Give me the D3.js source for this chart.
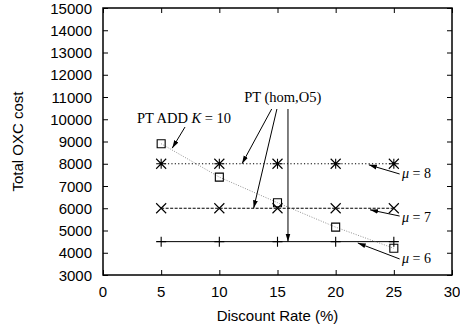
<!DOCTYPE html>
<html>
<head>
<meta charset="utf-8">
<script src="https://cdn.jsdelivr.net/npm/d3@7"></script>
<style>
  body { margin: 0; background: #fff; }
</style>
</head>
<body>
<svg class="graph"></svg>
<script>
var rates = [5, 10, 15, 20, 25];
var mu8 = [8000, 8000, 8000, 8000, 8000];
var mu7 = [6000, 6000, 6000, 6000, 6000];
var mu6 = [4500, 4500, 4500, 4500, 4500];
var ptAdd = [8900, 7400, 6250, 5150, 4200];
var xTicks = [0, 5, 10, 15, 20, 25, 30];
var yTicks = [3000, 4000, 5000, 6000, 7000, 8000, 9000, 10000, 11000, 12000, 13000, 14000, 15000];

// annotations in data units: [x1, y1, x2, y2]
var arrows = [
  [7.05, 9650, 5.95, 8700],
  [14.5, 10460, 11.95, 8000],
  [14.95, 10460, 12.95, 6000],
  [15.9, 10460, 15.9, 4500],
  [25.5, 7540, 22.85, 7950],
  [25.5, 5650, 22.95, 5930],
  [25.5, 3720, 21.9, 4440]
];

var width = 460;
var height = 331;
var pLeft = 103, pRight = 452, pTop = 8, pBottom = 275;

var svg = d3.select(".graph")
  .attr("width", width)
  .attr("height", height);

var x = d3.scaleLinear().domain([0, 30]).range([pLeft, pRight]);
var y = d3.scaleLinear().domain([3000, 15000]).range([pBottom, pTop]);

var defs = svg.append("defs");
defs.append("marker")
  .attr("id", "head")
  .attr("viewBox", "0 0 10 10")
  .attr("refX", 10)
  .attr("refY", 5)
  .attr("markerWidth", 8)
  .attr("markerHeight", 8)
  .attr("markerUnits", "userSpaceOnUse")
  .attr("orient", "auto")
  .append("path")
  .attr("d", "M0,2 L10,5 L0,8 Z")
  .attr("fill", "#000");

// ticks (inside, mirrored)
var tl = 5;
svg.append("g").attr("transform", "translate(0," + pBottom + ")")
  .call(d3.axisBottom(x).tickValues(xTicks).tickSizeInner(-tl).tickSizeOuter(0).tickFormat(""))
  .call(function(g){ g.select(".domain").remove(); });
svg.append("g").attr("transform", "translate(0," + pTop + ")")
  .call(d3.axisTop(x).tickValues(xTicks).tickSizeInner(-tl).tickSizeOuter(0).tickFormat(""))
  .call(function(g){ g.select(".domain").remove(); });
svg.append("g").attr("transform", "translate(" + pLeft + ",0)")
  .call(d3.axisLeft(y).tickValues(yTicks).tickSizeInner(-tl).tickSizeOuter(0).tickFormat(""))
  .call(function(g){ g.select(".domain").remove(); });
svg.append("g").attr("transform", "translate(" + pRight + ",0)")
  .call(d3.axisRight(y).tickValues(yTicks).tickSizeInner(-tl).tickSizeOuter(0).tickFormat(""))
  .call(function(g){ g.select(".domain").remove(); });
svg.selectAll(".tick line").attr("stroke", "#000").attr("stroke-width", 1);

var sans = "Liberation Sans, Arial, sans-serif";

// tick labels
svg.append("g").selectAll("text")
  .data(xTicks)
  .enter()
  .append("text")
  .attr("x", function(d){ return x(d); })
  .attr("y", pBottom + 22)
  .attr("text-anchor", "middle")
  .attr("font-family", sans)
  .attr("font-size", "15px")
  .text(function(d){ return d; });

svg.append("g").selectAll("text")
  .data(yTicks)
  .enter()
  .append("text")
  .attr("x", pLeft - 11)
  .attr("y", function(d){ return y(d) + 5.5; })
  .attr("text-anchor", "end")
  .attr("font-family", sans)
  .attr("font-size", "15px")
  .text(function(d){ return d; });

// border
svg.append("rect")
  .attr("x", pLeft).attr("y", pTop)
  .attr("width", pRight - pLeft).attr("height", pBottom - pTop)
  .attr("fill", "none").attr("stroke", "#000").attr("stroke-width", 1.5);

// axis titles
svg.append("text")
  .attr("transform", "translate(18," + ((pTop + pBottom) / 2) + ") rotate(-90)")
  .attr("text-anchor", "middle")
  .attr("dy", "0.35em")
  .attr("font-family", sans)
  .attr("font-size", "15px")
  .text("Total OXC cost");

svg.append("text")
  .attr("x", (pLeft + pRight) / 2)
  .attr("y", 321)
  .attr("text-anchor", "middle")
  .attr("font-family", sans)
  .attr("font-size", "15px")
  .text("Discount Rate (%)");

var line = d3.line()
  .x(function(d){ return x(d[0]); })
  .y(function(d){ return y(d[1]); });

function pairs(vals) {
  return rates.map(function(r, i){ return [r, vals[i]]; });
}

var series = [
  { vals: mu8, dash: "1.2,2.2", marker: "star", stroke: "#000", w: 1 },
  { vals: mu7, dash: "3,1.5", marker: "cross", stroke: "#000", w: 1 },
  { vals: mu6, dash: null, marker: "plus", stroke: "#000", w: 1 },
  { vals: ptAdd, dash: "1,1.5", marker: "box", stroke: "#777", w: 0.8 }
];

series.forEach(function(s) {
  svg.append("path")
    .datum(pairs(s.vals))
    .attr("d", line)
    .attr("fill", "none")
    .attr("stroke", s.stroke)
    .attr("stroke-width", s.w)
    .attr("stroke-dasharray", s.dash);

  var m = 5;
  var pts = svg.append("g").selectAll("g")
    .data(pairs(s.vals))
    .enter()
    .append("g")
    .attr("transform", function(d){ return "translate(" + x(d[0]) + "," + y(d[1]) + ")"; });

  var path = "";
  if (s.marker == "plus" || s.marker == "star") path += "M" + -m + ",0H" + m + "M0," + -m + "V" + m;
  if (s.marker == "cross" || s.marker == "star") path += "M" + -m + "," + -m + "L" + m + "," + m + "M" + -m + "," + m + "L" + m + "," + -m;
  if (s.marker == "box") path = "M-4,-4H4V4H-4Z";
  pts.append("path")
    .attr("d", path)
    .attr("fill", "none")
    .attr("stroke", "#000")
    .attr("stroke-width", 1.1);
});

// annotations
svg.append("g").selectAll("line")
  .data(arrows)
  .enter()
  .append("line")
  .attr("x1", function(d){ return x(d[0]); })
  .attr("y1", function(d){ return y(d[1]); })
  .attr("x2", function(d){ return x(d[2]); })
  .attr("y2", function(d){ return y(d[3]); })
  .attr("stroke", "#000")
  .attr("stroke-width", 1)
  .attr("marker-end", "url(#head)");

var serif = "Liberation Serif, Times New Roman, serif";

var t1 = svg.append("text")
  .attr("x", x(2.92)).attr("y", y(9830))
  .attr("font-family", serif).attr("font-size", "14.5px");
t1.append("tspan").text("PT ADD ");
t1.append("tspan").attr("font-style", "italic").text("K");
t1.append("tspan").text(" = 10");

svg.append("text")
  .attr("x", x(15.45)).attr("y", y(10770))
  .attr("text-anchor", "middle")
  .attr("font-family", serif).attr("font-size", "14.5px")
  .text("PT (hom,O5)");

var muLabels = [[7360, "8"], [5380, "7"], [3540, "6"]];
muLabels.forEach(function(l) {
  var t = svg.append("text")
    .attr("x", x(25.7)).attr("y", y(l[0]))
    .attr("font-family", serif).attr("font-size", "14px");
  t.append("tspan").attr("font-style", "italic").text("\u03bc");
  t.append("tspan").text(" = " + l[1]);
});
</script>
</body>
</html>
